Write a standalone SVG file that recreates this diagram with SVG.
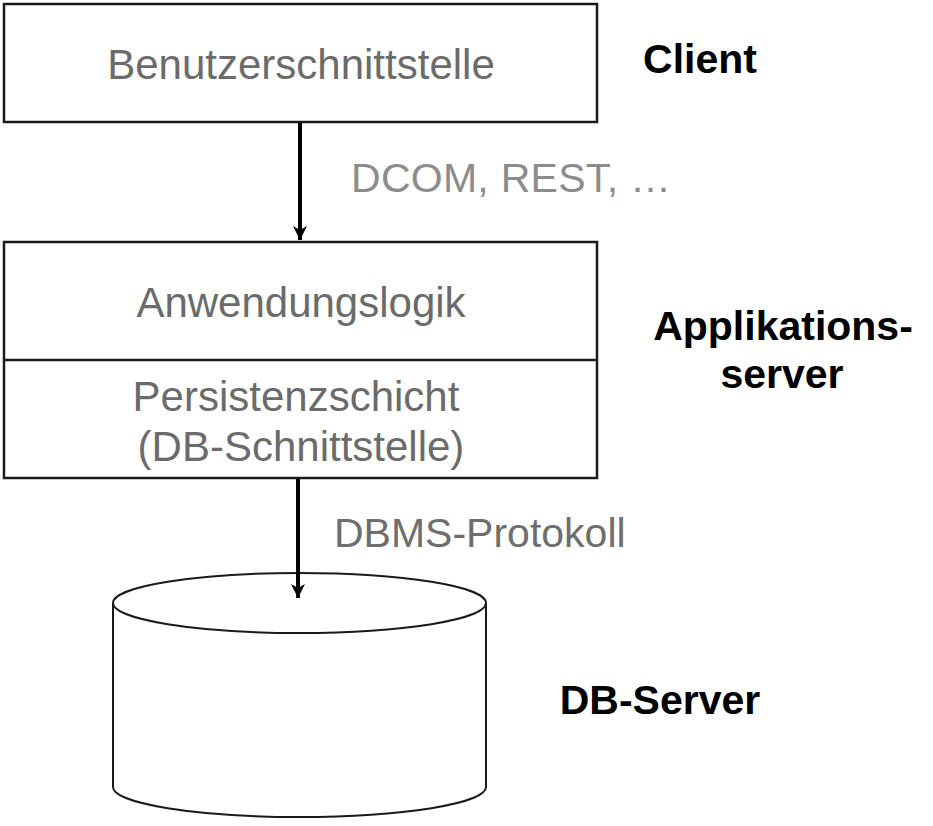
<svg xmlns="http://www.w3.org/2000/svg" width="933" height="826" viewBox="0 0 933 826">
<style>
.box{fill:#fff;stroke:#1a1a1a;stroke-width:2.5}
.cyl{fill:#fff;stroke:#1a1a1a;stroke-width:2}
.t{font-family:"Liberation Sans",Arial,sans-serif;font-size:42px;fill:#6b6b6b;text-anchor:middle}
.lbl{font-family:"Liberation Sans",Arial,sans-serif;font-size:41px;fill:#6e6e6e}
.lt{fill:#8c8c8c}
.b{font-family:"Liberation Sans",Arial,sans-serif;font-size:41px;font-weight:bold;fill:#000;text-anchor:middle}
.edge{stroke:#000;stroke-width:4;fill:none}
</style>
<defs>
<marker id="arr" markerUnits="userSpaceOnUse" markerWidth="16" markerHeight="16" viewBox="0 0 16 16" refX="14" refY="8" orient="auto">
<path d="M0,1 L14,8 L0,15 L4,8 Z" fill="#000"/>
</marker>
</defs>
<g id="client">
<rect class="box" x="4" y="4" width="593" height="118"/>
<text class="t" x="301" y="79">Benutzerschnittstelle</text>
</g>
<g id="appserver">
<rect class="box" x="4" y="242" width="593" height="236"/>
<line x1="4" y1="360" x2="597" y2="360" stroke="#1a1a1a" stroke-width="2.5"/>
<text class="t" x="301" y="317">Anwendungslogik</text>
<text class="t" x="296" y="411">Persistenzschicht</text>
<text class="t" x="301" y="461">(DB-Schnittstelle)</text>
</g>
<g id="dbserver">
<path class="cyl" d="M113,603 L113,787 A186.5,30 0 0 0 486,787 L486,603"/>
<ellipse class="cyl" cx="299.5" cy="603" rx="186.5" ry="30"/>
</g>
<g id="labels">
<text class="b" x="700" y="73">Client</text>
<text class="b" x="783" y="340" font-size="42">Applikations-</text>
<text class="b" x="782" y="388">server</text>
<text class="b" x="660" y="714" font-size="42">DB-Server</text>
</g>
<g id="connectors">
<line class="edge" x1="300" y1="123" x2="300" y2="240" marker-end="url(#arr)"/>
<line class="edge" x1="298" y1="479" x2="298" y2="598" marker-end="url(#arr)"/>
<text class="lbl lt" x="351" y="192" font-size="40" textLength="320">DCOM, REST, …</text>
<text class="lbl" x="334" y="547">DBMS-Protokoll</text>
</g>
</svg>
